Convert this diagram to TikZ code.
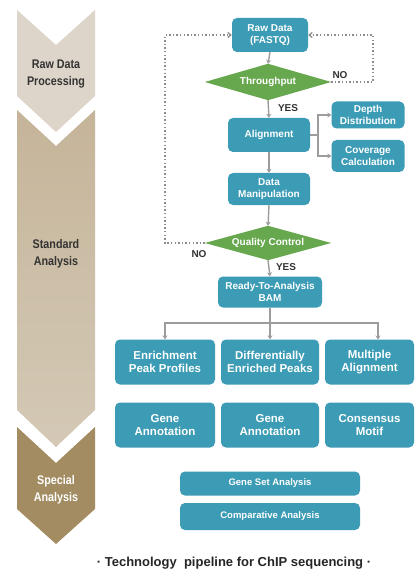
\documentclass[tikz,border=0pt]{standalone}
\usepackage{fontspec}
\setmainfont{Liberation Sans}
\newfontfamily\condfont[FakeStretch=0.86]{Liberation Sans}
\usetikzlibrary{arrows.meta,backgrounds}
\definecolor{boxteal}{HTML}{3C9BB5}
\definecolor{dgreen}{HTML}{67A84F}
\definecolor{conngray}{HTML}{9C9C9C}
\definecolor{dotgray}{HTML}{8C8C8C}
\definecolor{bandA}{HTML}{DDD5C9}
\definecolor{bandBtop}{HTML}{C5B499}
\definecolor{bandBbot}{HTML}{D4C9B6}
\definecolor{bandC}{HTML}{A38C62}
\definecolor{labgray}{HTML}{333333}
\begin{document}
\begin{tikzpicture}[x=1pt,y=-1pt,
  box/.style={fill=boxteal,rounded corners=5pt,text=white,align=center,inner sep=0pt,
    font=\bfseries\fontsize{10}{12.5}\selectfont},
  bigbox/.style={box,font=\bfseries\fontsize{11.5}{13}\selectfont},
  widebox/.style={box,font=\bfseries\fontsize{9.5}{11}\selectfont},
  decision/.style={inner sep=0pt,text=white,font=\bfseries\fontsize{10}{12}\selectfont},
  rhombus/.style={fill=dgreen},
  conn/.style={draw=conngray,line width=1.4pt,-{Stealth[length=4pt,width=5pt]}},
  plainconn/.style={draw=conngray,line width=1.4pt},
  loop/.style={draw=dotgray,line width=1.3pt,dash pattern=on 1.4pt off 2.2pt,
    -{Straight Barb[length=3pt,width=5pt]}},
  lab/.style={text=labgray,font=\bfseries\fontsize{10}{12}\selectfont},
  stagetext/.style={align=center,font=\condfont\bfseries\fontsize{12.5}{16.5}\selectfont}]
\useasboundingbox (0,0) rectangle (417,577);

% stage chevrons on the left
\fill[bandA] (17,10) -- (56,45) -- (95,10) -- (95,96) -- (56,132) -- (17,96) -- cycle;
\shade[top color=bandBtop,bottom color=bandBbot]
  (17,110) -- (56,146) -- (95,110) -- (95,410) -- (56,447) -- (17,410) -- cycle;
\fill[bandC] (17,427) -- (56,463) -- (95,427) -- (95,509) -- (56,544) -- (17,509) -- cycle;
\node[stagetext,text=labgray] (s1) at (56,74) {Raw Data\\Processing};
\node[stagetext,text=labgray] (s2) at (56,254) {Standard\\Analysis};
\node[stagetext,text=white] (s3) at (56,490) {Special\\Analysis};

% flowchart
\node[box,minimum width=76pt,minimum height=34pt] (raw) at (270,35) {Raw Data\\(FASTQ)};
\node[decision,minimum width=126pt,minimum height=36pt] (thr) at (268,82) {Throughput};
\node[box,minimum width=82pt,minimum height=34pt] (aln) at (269,135) {Alignment};
\node[box,minimum width=73pt,minimum height=27pt] (depth) at (368,115) {Depth\\Distribution};
\node[box,minimum width=73pt,minimum height=32pt] (cov) at (368,156) {Coverage\\Calculation};
\node[box,minimum width=82pt,minimum height=32pt] (dm) at (269,189) {Data\\Manipulation};
\node[decision,minimum width=126pt,minimum height=34pt] (qc) at (268,243) {Quality Control};
\node[box,minimum width=104pt,minimum height=31pt] (bam) at (270,292) {Ready-To-Analysis\\BAM};

% decision diamonds behind their labels
\begin{scope}[on background layer]
  \fill[white] (0,0) rectangle (417,577);
  \fill[rhombus] (thr.west) -- (thr.north) -- (thr.east) -- (thr.south) -- cycle;
  \fill[rhombus] (qc.west) -- (qc.north) -- (qc.east) -- (qc.south) -- cycle;
\end{scope}

\node[bigbox,minimum width=100pt,minimum height=45pt] (epp) at (165,362) {Enrichment\\Peak Profiles};
\node[bigbox,minimum width=98pt,minimum height=45pt] (dep) at (270,362) {Differentially\\Enriched Peaks};
\node[bigbox,minimum width=89pt,minimum height=45pt] (mal) at (369.5,362) {Multiple\\Alignment};
\node[bigbox,minimum width=100pt,minimum height=45pt] (ga1) at (165,425) {Gene\\Annotation};
\node[bigbox,minimum width=98pt,minimum height=45pt] (ga2) at (270,425) {Gene\\Annotation};
\node[bigbox,minimum width=89pt,minimum height=45pt] (cm) at (369.5,425) {Consensus\\Motif};
\node[widebox,minimum width=180pt,minimum height=24pt] (gsa) at (270,483.5) {Gene Set Analysis};
\node[widebox,minimum width=180pt,minimum height=27pt] (ca) at (270,516.5) {Comparative Analysis};

% main connectors
\draw[conn] (raw.south) -- (thr.north);
\draw[conn] (thr.south) -- (aln.north);
\draw[conn] (aln.south) -- (dm.north);
\draw[conn] (dm.south) -- (qc.north);
\draw[conn] (qc.south) -- (bam.north);
\coordinate (fork) at (318,135);
\draw[plainconn] (aln.east) -- (fork);
\draw[conn] (fork) |- (depth.west);
\draw[conn] (fork) |- (cov.west);
\coordinate (split) at (270,323);
\draw[plainconn] (bam.south) -- (split);
\draw[conn] (split) -| (epp.north);
\draw[conn] (split) -- (dep.north);
\coordinate (malin) at (378,339.5);
\draw[conn] (split) -| (malin);

% feedback loops
\coordinate (loopR) at (373,35);
\coordinate (loopL) at (165,35);
\draw[loop] (thr.east) -| (loopR) -- (raw.east);
\draw[loop] (qc.west) -| (loopL) -- (raw.west);

% decision labels
\node[lab] (no1) at (340,75) {NO};
\node[lab] (yes1) at (288,108) {YES};
\node[lab] (no2) at (199,254) {NO};
\node[lab] (yes2) at (286,267) {YES};

\node[font=\bfseries\fontsize{13}{15}\selectfont,text=black!85] (cap) at (234,563)
  {· Technology\ \ pipeline for ChIP sequencing ·};
\end{tikzpicture}
\end{document}
